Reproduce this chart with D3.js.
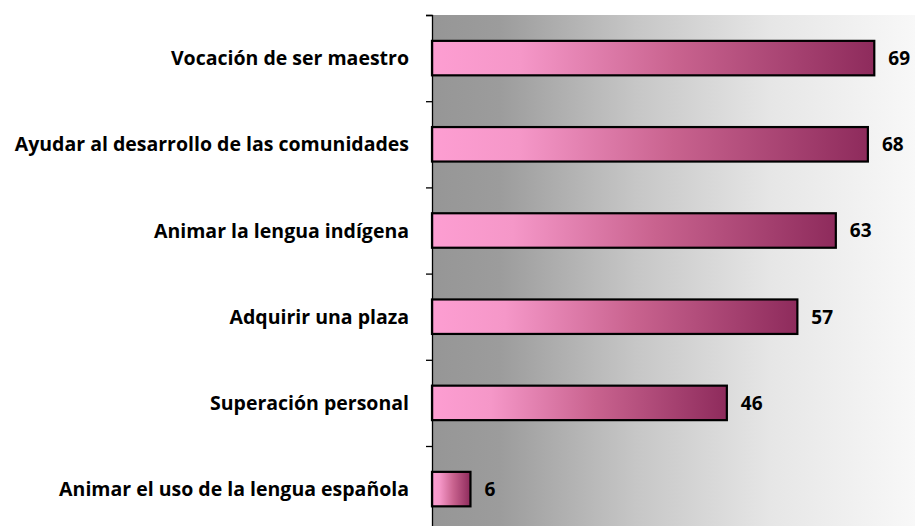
<!DOCTYPE html>
<html>
<head>
<meta charset="utf-8">
<script src="https://cdn.jsdelivr.net/npm/d3@7"></script>
<style>
body { margin: 0; background: #fff; }
</style>
</head>
<body>
<div id="chart"></div>
<script>
var categories = [
	"Vocación de ser maestro",
	"Ayudar al desarrollo de las comunidades",
	"Animar la lengua indígena",
	"Adquirir una plaza",
	"Superación personal",
	"Animar el uso de la lengua española"
];
var values = [69, 68, 63, 57, 46, 6];

var width = 915, height = 526;
var plotLeft = 432, plotTop = 15, bandH = 86.2;
var font = "'Open Sans', Lato, sans-serif";

var svg = d3.select("#chart").append("svg")
	.attr("width", width)
	.attr("height", height);

var defs = svg.append("defs");
var bg = defs.append("linearGradient").attr("id", "bg")
	.attr("x1", "0%").attr("x2", "100%").attr("y1", "0%").attr("y2", "0%");
[["0%", "#969696"], ["14%", "#9c9c9c"], ["42%", "#c6c6c6"], ["70%", "#e6e6e6"], ["100%", "#f8f8f8"]]
	.forEach(s => bg.append("stop").attr("offset", s[0]).attr("stop-color", s[1]));

var barGrad = defs.append("linearGradient").attr("id", "barGrad")
	.attr("x1", "0%").attr("x2", "100%").attr("y1", "0%").attr("y2", "0%");
[["0%", "#fd9ed2"], ["20%", "#f597c8"], ["55%", "#c9638f"], ["100%", "#8e2b5c"]]
	.forEach(s => barGrad.append("stop").attr("offset", s[0]).attr("stop-color", s[1]));

var x = d3.scaleLinear().domain([0, 75]).range([plotLeft, plotLeft + 75 * 6.41]);
var y = d3.scaleBand().domain(categories)
	.range([plotTop, plotTop + bandH * categories.length])
	.paddingInner(0.6).paddingOuter(0.3);

// plot background
svg.append("rect")
	.attr("x", plotLeft).attr("y", plotTop)
	.attr("width", width - plotLeft).attr("height", height - plotTop)
	.attr("fill", "url(#bg)");

// bars
svg.append("g").selectAll("rect")
	.data(values)
	.enter().append("rect")
	.attr("x", x(0))
	.attr("y", (d, i) => y(categories[i]))
	.attr("width", d => x(d) - x(0))
	.attr("height", y.bandwidth())
	.attr("fill", "url(#barGrad)")
	.attr("stroke", "#000")
	.attr("stroke-width", 2.2);

// value labels
svg.append("g").selectAll("text")
	.data(values)
	.enter().append("text")
	.attr("x", d => x(d) + 14)
	.attr("y", (d, i) => y(categories[i]) + y.bandwidth() / 2)
	.attr("dy", "0.36em")
	.style("font-family", font)
	.style("font-weight", "bold")
	.style("font-size", "19px")
	.attr("fill", "#000")
	.text(d => d);

// axis
var yAxis = d3.axisLeft(d3.scaleLinear().domain([0, 6]).range([plotTop, plotTop + bandH * 6]))
	.ticks(6).tickSize(6).tickFormat("");
var ax = svg.append("g").attr("transform", "translate(" + plotLeft + ",0)").call(yAxis);
ax.select(".domain").attr("stroke", "#000").attr("stroke-width", 1.3);
ax.selectAll(".tick line").attr("stroke", "#000").attr("stroke-width", 1.3);

// category labels
svg.append("g").selectAll("text")
	.data(categories)
	.enter().append("text")
	.attr("x", 409)
	.attr("y", d => y(d) + y.bandwidth() / 2)
	.attr("dy", "0.36em")
	.attr("text-anchor", "end")
	.style("font-family", font)
	.style("font-weight", "bold")
	.style("font-size", "19.5px")
	.attr("fill", "#000")
	.text(d => d);
</script>
</body>
</html>
